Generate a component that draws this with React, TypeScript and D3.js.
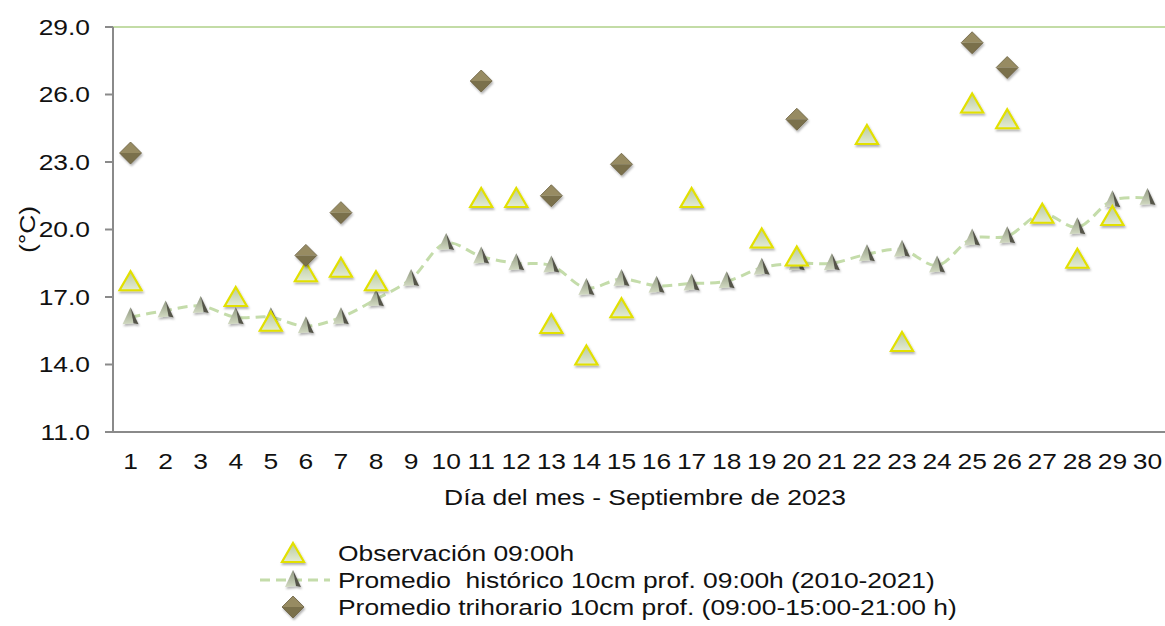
import * as d3 from "d3";

const days = d3.range(1, 31).map(String);
const observacion = [17.7, null, null, 17.0, 15.9, 18.1, 18.3, 17.7, null, null, 21.4, 21.4, 15.8, 14.4, 16.5, null, 21.4, null, 19.6, 18.8, null, 24.2, 15.0, null, 25.6, 24.9, 20.7, 18.7, 20.6, null];
const historico = [16.1, 16.4, 16.6, 16.1, 16.1, 15.7, 16.1, 16.9, 17.8, 19.4, 18.8, 18.5, 18.4, 17.4, 17.8, 17.5, 17.6, 17.7, 18.3, 18.5, 18.5, 18.9, 19.1, 18.4, 19.6, 19.7, 20.7, 20.1, 21.3, 21.4];
const trihorario = [23.4, null, null, null, null, 18.85, 20.75, null, null, null, 26.6, null, 21.5, null, 22.9, null, null, null, null, 24.9, null, null, null, null, 28.3, 27.2, null, null, null, null];
const yTicks = [11, 14, 17, 20, 23, 26, 29];
const legendLabels = [
  "Observación 09:00h",
  "Promedio  histórico 10cm prof. 09:00h (2010-2021)",
  "Promedio trihorario 10cm prof. (09:00-15:00-21:00 h)",
];

const W = 1165;
const H = 626;
const left = 113, right = 1165, top = 27, bottom = 432;
const font = "'Liberation Sans', Arial, sans-serif";
const sx = 1.2;

const x = d3.scaleBand<string>().domain(days).range([left, right]);
const y = d3.scaleLinear().domain([11, 29]).range([bottom, top]);
const cx = (i: number) => (x(days[i]) as number) + x.bandwidth() / 2;

const triBig = "M0,-10L11,9L-11,9Z";
const grayL = "M0,-10L-8,7L3,6Z";
const grayR = "M0,-10L3,6L8,7Z";
const diaTop = "M0,-11L11,0L-11,0Z";
const diaBot = "M-11,0L11,0L0,11Z";

const Yellow = ({ tx, ty }: { tx: number; ty: number }) => (
  <g transform={`translate(${tx},${ty})`} filter="url(#shadow)">
    <path d={triBig} fill="url(#yfill)" stroke="#e2e000" strokeWidth={2.2} strokeLinejoin="miter" />
  </g>
);

const Gray = ({ tx, ty }: { tx: number; ty: number }) => (
  <g transform={`translate(${tx},${ty})`} filter="url(#shadow)">
    <path d={grayL} fill="url(#gfill)" />
    <path d={grayR} fill="#55554a" />
  </g>
);

const Diamond = ({ tx, ty }: { tx: number; ty: number }) => (
  <g transform={`translate(${tx},${ty})`} filter="url(#shadow)">
    <path d={diaTop} fill="#978b62" />
    <path d={diaBot} fill="#7a6f4b" />
    <path d="M0,-11L11,0L0,11L-11,0Z" fill="none" stroke="#6a603f" strokeWidth={0.8} />
  </g>
);

const Label = ({ tx, ty, anchor, children, size = 22 }: any) => (
  <text
    transform={`translate(${tx},${ty}) scale(${sx},1)`}
    textAnchor={anchor}
    dominantBaseline="central"
    fontFamily={font}
    fontSize={size}
    fill="#111"
    style={{ whiteSpace: "pre" }}
  >
    {children}
  </text>
);

export default function App() {
  const line = d3
    .line<number>()
    .x((_, i) => cx(i))
    .y((d) => y(d))
    .curve(d3.curveCatmullRom.alpha(0.5));

  return (
    <svg width={W} height={H} style={{ position: "absolute", left: 0, top: 0, background: "#fff" }}>
      <defs>
        <filter id="shadow" x="-50%" y="-50%" width="200%" height="200%">
          <feDropShadow dx={1} dy={2} stdDeviation={1.3} floodColor="#000" floodOpacity={0.3} />
        </filter>
        <linearGradient id="yfill" x1="0" y1="0" x2="0" y2="1">
          <stop offset="0" stopColor="#b8c8a0" />
          <stop offset="1" stopColor="#e4ecd4" />
        </linearGradient>
        <linearGradient id="gfill" x1="0" y1="0" x2="0" y2="1">
          <stop offset="0" stopColor="#8f977f" />
          <stop offset="1" stopColor="#d2dac2" />
        </linearGradient>
      </defs>

      {/* top reference line */}
      <line x1={left} x2={right} y1={y(29)} y2={y(29)} stroke="#c3dca6" strokeWidth={2} />

      {/* axes */}
      <line x1={left} x2={left} y1={top} y2={bottom} stroke="#8a8a8a" strokeWidth={2} />
      <line x1={left - 8} x2={right} y1={bottom} y2={bottom} stroke="#8a8a8a" strokeWidth={2} />
      {yTicks.map((t) => (
        <g key={t}>
          <line x1={left - 8} x2={left} y1={y(t)} y2={y(t)} stroke="#8a8a8a" strokeWidth={2} />
          <Label tx={left - 23} ty={y(t)} anchor="end">
            {d3.format(".1f")(t)}
          </Label>
        </g>
      ))}
      {days.map((d, i) => (
        <Label key={d} tx={cx(i)} ty={461} anchor="middle">
          {d}
        </Label>
      ))}
      <Label tx={(left + right) / 2 + 6} ty={497} anchor="middle">
        Día del mes - Septiembre de 2023
      </Label>
      <text
        transform={`translate(27,${y(20)}) rotate(-90) scale(${sx},1)`}
        textAnchor="middle"
        dominantBaseline="central"
        fontFamily={font}
        fontSize={22}
        fill="#111"
      >
        (°C)
      </text>

      {/* series */}
      <path
        d={line(historico) as string}
        fill="none"
        stroke="#c4dcaa"
        strokeWidth={3}
        strokeDasharray="10 6"
      />
      {historico.map((v, i) => (
        <Gray key={"h" + i} tx={cx(i)} ty={y(v)} />
      ))}
      {observacion.map((v, i) => (v == null ? null : <Yellow key={"o" + i} tx={cx(i)} ty={y(v)} />))}
      {trihorario.map((v, i) => (v == null ? null : <Diamond key={"t" + i} tx={cx(i)} ty={y(v)} />))}

      {/* legend */}
      <Yellow tx={293} ty={553} />
      <line x1={260} x2={330} y1={580} y2={580} stroke="#c4dcaa" strokeWidth={3} strokeDasharray="10 6" />
      <Gray tx={293} ty={580} />
      <Diamond tx={293} ty={607} />
      {legendLabels.map((l, i) => (
        <Label key={l} tx={338} ty={553 + i * 27} anchor="start">
          {l}
        </Label>
      ))}
    </svg>
  );
}
